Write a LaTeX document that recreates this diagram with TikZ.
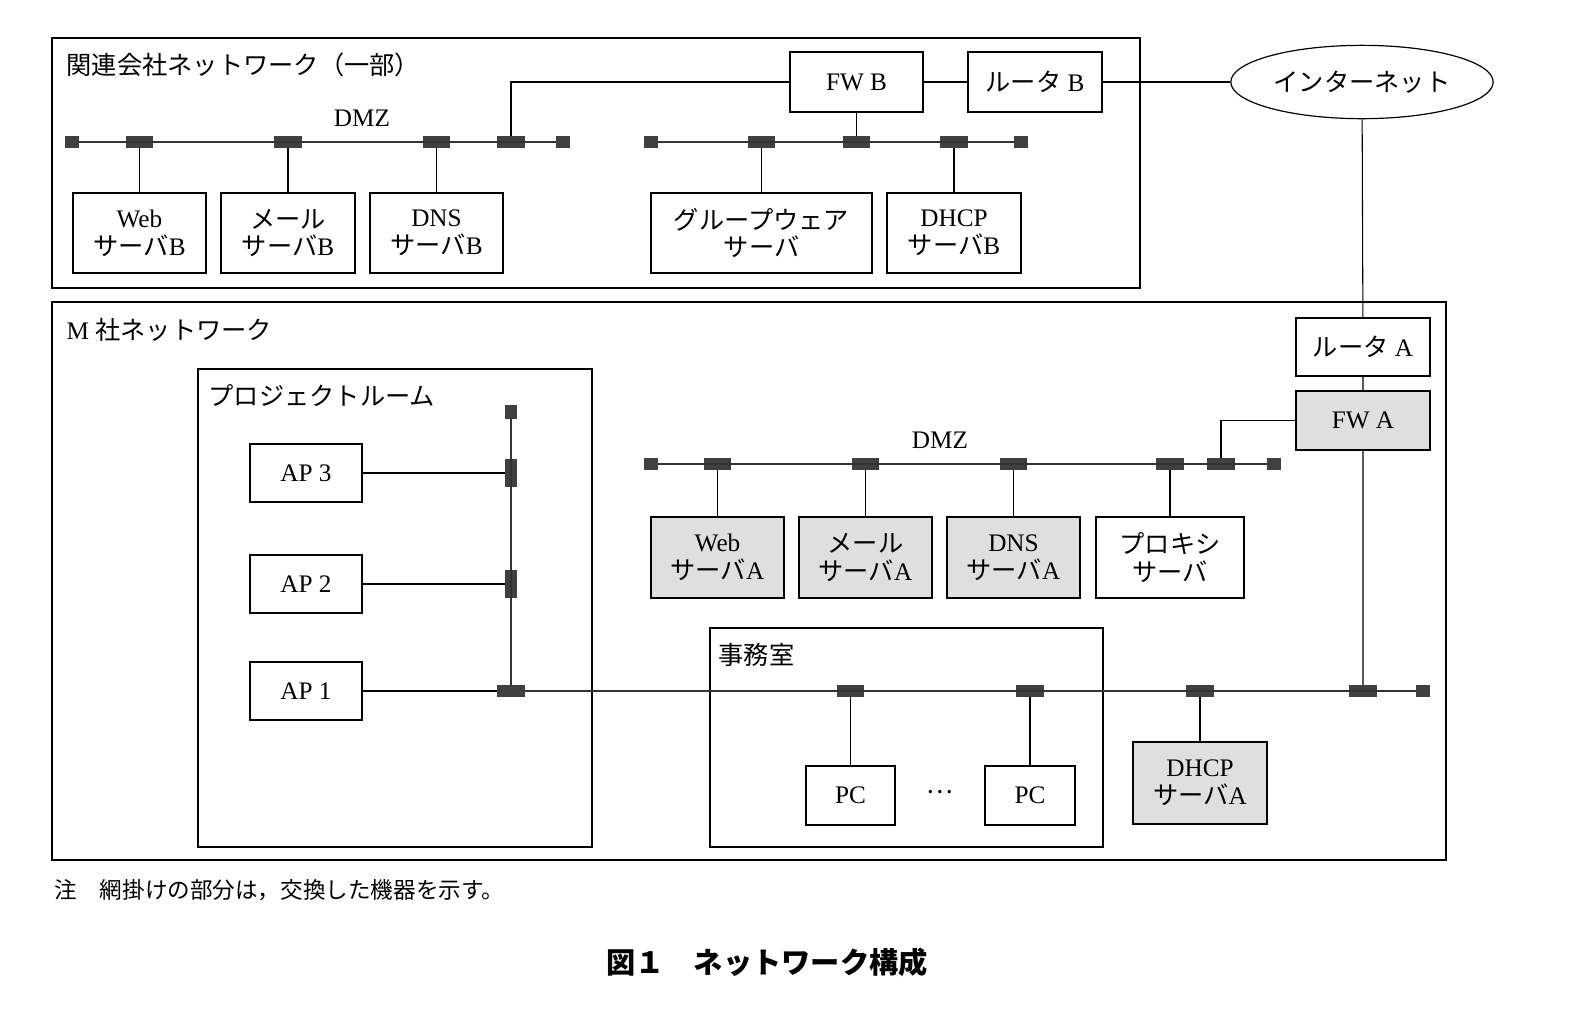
\documentclass[tikz,border=0pt]{standalone}
\usepackage{fontspec}
\usetikzlibrary{shapes.geometric}
\setmainfont{Liberation Serif}
\newfontfamily\cjk{Noto Sans CJK JP}
\begin{document}
\newcommand\bx[7]{\node[#7, minimum width={(#4-#2)*0.75bp}, minimum height={(#5-#3)*0.75bp}] (#1) at ({(#2+#4)/2},{(#3+#5)/2}) {#6};}
\newcommand\tp[3]{\node[tap] (#1) at (#2,#3) {};}
\newcommand\en[3]{\node[endsq] (#1) at (#2,#3) {};}
\newcommand\vt[3]{\node[vtap] (#1) at (#2,#3) {};}
\begin{tikzpicture}[x=0.75bp,y=-0.75bp,
  every node/.style={font=\fontsize{19}{21}\selectfont},
  box/.style={draw,line width=0.9pt,inner sep=0pt,align=center},
  gbox/.style={box,fill=gray!25},
  frame/.style={draw,line width=0.9pt},
  tap/.style={fill=black!75,minimum width=21pt,minimum height=9pt,inner sep=0pt},
  vtap/.style={fill=black!75,minimum width=9pt,minimum height=21pt,inner sep=0pt},
  endsq/.style={fill=black!75,minimum width=10pt,minimum height=9pt,inner sep=0pt},
  bus/.style={line width=2pt,black!80},
  ln/.style={line width=0.8pt}]
\useasboundingbox (0,0) rectangle (1580,1018);
% top frame
\draw[frame] (52,38) rectangle (1140,288);
\node[anchor=west] (t1) at (62,65) {\cjk 関連会社ネットワーク（一部）};
\node (dmz1) at (362,118) {DMZ};
\bx{webb}{73}{193}{206}{273}{Web\\{\cjk サーバ}B}{box}
\bx{mailb}{221}{193}{355}{273}{{\cjk メール}\\{\cjk サーバ}B}{box}
\bx{dnsb}{370}{193}{503}{273}{DNS\\{\cjk サーバ}B}{box}
\bx{fwb}{790}{52}{923}{112}{FW B}{box}
\bx{rtb}{968}{52}{1102}{112}{{\cjk ルータ} B}{box}
\node[draw,ellipse,line width=0.9pt,minimum width=177bp,minimum height=55bp] (inet) at (1362,82) {\cjk インターネット};
\bx{gw}{651}{193}{872}{273}{{\cjk グループウェア}\\{\cjk サーバ}}{box}
\bx{dhcpb}{887}{193}{1021}{273}{DHCP\\{\cjk サーバ}B}{box}
\en{b1l}{72}{142}\tp{b1a}{139.5}{142}\tp{b1b}{288}{142}\tp{b1c}{436.5}{142}\tp{b1d}{511}{142}\en{b1r}{563}{142}
\en{b2l}{651}{142}\tp{b2a}{761.5}{142}\tp{b2b}{856.5}{142}\tp{b2c}{954}{142}\en{b2r}{1021}{142}
\draw[bus] (b1l)--(b1r); \draw[bus] (b2l)--(b2r);
\draw[ln] (b1a)--(webb) (b1b)--(mailb) (b1c)--(dnsb) (b2a)--(gw) (b2c)--(dhcpb) (b2b)--(fwb);
\draw[ln] (b1d.north) |- (fwb.west);
\draw[ln] (fwb)--(rtb) (rtb)--(inet);
% M frame
\draw[frame] (52,302) rectangle (1446,860);
\node[anchor=west] (t2) at (62,330) {M {\cjk 社ネットワーク}};
\bx{rta}{1296}{318}{1430}{376}{{\cjk ルータ} A}{box}
\bx{fwa}{1296}{391}{1430}{450}{FW A}{gbox}
\node (dmz2) at (940,440) {DMZ};
\en{d2l}{651}{464}\tp{da}{717.5}{464}\tp{db}{865.5}{464}\tp{dc}{1013.5}{464}\tp{dd}{1170}{464}\tp{de}{1221}{464}\en{d2r}{1274}{464}
\draw[bus] (d2l)--(d2r);
\bx{weba}{651}{517}{784}{598}{Web\\{\cjk サーバ}A}{gbox}
\bx{maila}{799}{517}{932}{598}{{\cjk メール}\\{\cjk サーバ}A}{gbox}
\bx{dnsa}{947}{517}{1080}{598}{DNS\\{\cjk サーバ}A}{gbox}
\bx{prx}{1096}{517}{1244}{598}{{\cjk プロキシ}\\{\cjk サーバ}}{box}
\draw[ln] (da)--(weba) (db)--(maila) (dc)--(dnsa) (dd)--(prx);
\draw[ln] (de.north) |- (fwa.west);
% project room
\draw[frame] (198,369) rectangle (592,847);
\node[anchor=west] (t3) at (204,396) {\cjk プロジェクトルーム};
\bx{ap3}{250}{444}{362}{502}{AP 3}{box}
\bx{ap2}{250}{555}{362}{613}{AP 2}{box}
\bx{ap1}{250}{662}{362}{720}{AP 1}{box}
\node[endsq,minimum width=9pt,minimum height=10pt] (vt0) at (511,412) {};
\vt{v3}{511}{473}\vt{v2}{511}{584}
\tp{m0}{511}{691}
% office
\draw[frame] (710,628) rectangle (1103,847);
\node[anchor=west] (t4) at (714,655) {\cjk 事務室};
\bx{pc1}{806}{766}{895}{825}{PC}{box}
\bx{pc2}{985}{766}{1075}{825}{PC}{box}
\node (dots) at (940,792) {\cjk …};
\bx{dhcpa}{1133}{742}{1267}{824}{DHCP\\{\cjk サーバ}A}{gbox}
\tp{m1}{850.5}{691}\tp{m2}{1030}{691}\tp{m3}{1200}{691}\tp{m4}{1363}{691}\en{mr}{1423}{691}
\draw[bus] (vt0)--(m0); \draw[bus] (m0)--(mr);
\draw[ln] (ap3)--(v3) (ap2)--(v2) (ap1)--(m0) (m1)--(pc1) (m2)--(pc2) (m3)--(dhcpa);
\draw[ln] (inet)--(rta) (rta)--(fwa) (fwa)--(m4);
% notes
\node[anchor=west,font=\fontsize{17}{20}\selectfont] (note) at (50,890) {\cjk 注　網掛けの部分は，交換した機器を示す。};
\node[font=\fontsize{22}{26}\selectfont\bfseries] (cap) at (767,962) {\cjk 図１　ネットワーク構成};
\end{tikzpicture}
\end{document}
